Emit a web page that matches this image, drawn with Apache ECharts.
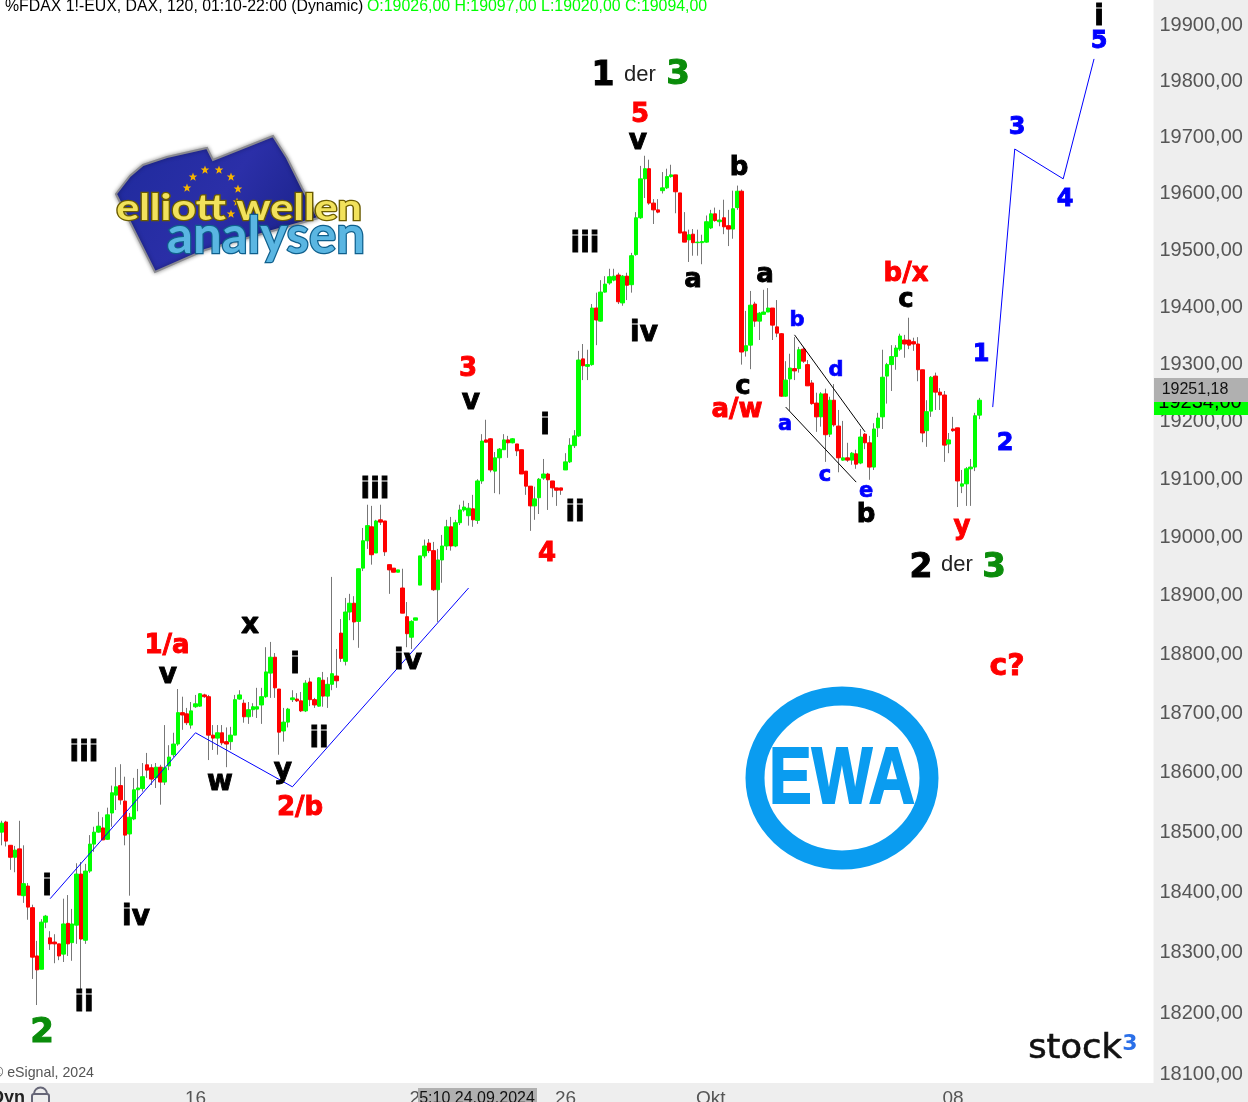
<!DOCTYPE html>
<html><head><meta charset="utf-8">
<style>html,body{margin:0;padding:0;background:#eee;overflow:hidden}#c{width:1248px;height:1102px}</style>
<script src="https://cdn.jsdelivr.net/npm/echarts@6/dist/echarts.min.js"></script>
</head><body><div id="c"></div>
<script>
const opens=[18497,18514,18475,18455,18469,18391,18407,18371,18291,18269,
18347,18321,18314,18311,18294,18345,18313,18342,18427,18317,
18432,18477,18497,18504,18485,18529,18559,18575,18549,18494,
18519,18568,18570,18610,18605,18588,18606,18581,18608,18627,
18645,18698,18696,18677,18708,18709,18728,18725,18660,18655,
18664,18649,18649,18660,18721,18714,18691,18703,18704,18711,
18725,18765,18792,18738,18667,18682,18720,18721,18718,18701,
18750,18720,18709,18753,18726,18746,18760,18833,18785,18869,
18884,18853,18944,18991,19015,18970,19027,19025,18950,18944,
18937,18910,18861,18826,18855,18915,18965,18987,18974,18907,
18958,18982,19015,18982,19022,19044,19034,19046,19026,19094,
19165,19167,19111,19134,19148,19165,19160,19158,19148,19111,
19085,19051,19065,19099,19106,19094,19082,19082,19113,19127,
19155,19172,19306,19293,19296,19395,19372,19423,19439,19444,
19453,19404,19451,19436,19489,19554,19623,19641,19580,19568,
19602,19607,19627,19630,19598,19529,19515,19525,19510,19510,
19511,19536,19561,19547,19554,19540,19534,19572,19601,19320,
19330,19402,19372,19384,19388,19395,19362,19350,19241,19271,
19289,19289,19323,19296,19264,19229,19205,19245,19175,19234,
19189,19130,19134,19130,19141,19125,19175,19160,19118,19186,
19205,19276,19296,19310,19323,19339,19339,19336,19332,19287,
19181,19215,19276,19248,19243,19158,19184,19186,19085,19089,
19115,19118,19208];
const closes=[18512,18482,18455,18467,18392,18411,18372,18289,18268,18347,
18357,18311,18311,18291,18344,18311,18344,18427,18319,18432,
18477,18497,18507,18484,18526,18563,18573,18551,18492,18522,
18568,18571,18590,18601,18586,18606,18581,18605,18623,18645,
18698,18694,18681,18701,18713,18730,18725,18660,18655,18664,
18647,18645,18660,18720,18728,18691,18703,18708,18708,18725,
18767,18792,18740,18665,18682,18704,18723,18718,18701,18748,
18720,18711,18757,18726,18746,18764,18752,18790,18869,18884,
18852,18943,18991,19017,18967,19025,19023,18972,18941,18937,
18941,18867,18832,18853,18859,18965,18982,18974,18907,18958,
18982,19015,18982,19022,19044,19049,19047,19027,19094,19163,
19161,19113,19134,19149,19165,19160,19167,19146,19106,19085,
19051,19063,19097,19106,19096,19082,19078,19078,19127,19156,
19172,19304,19294,19296,19395,19374,19423,19437,19450,19451,
19406,19451,19435,19487,19554,19623,19641,19580,19568,19564,
19607,19627,19630,19600,19527,19511,19524,19510,19511,19512,
19547,19561,19549,19550,19538,19534,19570,19601,19318,19329,
19400,19372,19386,19388,19395,19365,19351,19241,19269,19290,
19285,19322,19302,19259,19228,19205,19245,19174,19234,19191,
19134,19134,19130,19142,19123,19170,19160,19118,19184,19203,
19274,19296,19310,19325,19346,19332,19330,19332,19287,19177,
19214,19274,19248,19243,19156,19165,19181,19094,19089,19115,
19118,19207,19234];
const highs=[18516,18516,18475,18474,18516,18475,18412,18376,18316,18352,
18359,18332,18327,18311,18386,18392,18369,18445,18447,18444,
18492,18506,18531,18522,18538,18575,18606,18611,18590,18529,
18588,18603,18613,18630,18611,18613,18610,18677,18643,18664,
18738,18725,18706,18716,18728,18731,18730,18728,18677,18677,
18677,18673,18674,18728,18736,18720,18716,18714,18740,18740,
18809,18818,18799,18738,18706,18706,18736,18731,18733,18753,
18757,18723,18758,18767,18758,18929,18806,18857,18893,18900,
18896,18943,19013,19053,19051,19027,19053,19025,18950,18944,
18941,18943,18886,18855,18859,18965,18993,18994,18989,18977,
19001,19027,19032,19027,19053,19060,19056,19070,19097,19175,
19200,19168,19144,19151,19175,19172,19168,19158,19148,19111,
19085,19084,19099,19132,19108,19094,19082,19082,19142,19168,
19182,19320,19332,19322,19402,19422,19444,19451,19464,19464,
19457,19453,19457,19492,19564,19646,19664,19657,19587,19587,
19635,19641,19648,19630,19598,19564,19533,19534,19533,19524,
19558,19568,19572,19568,19586,19568,19602,19611,19604,19390,
19425,19406,19388,19427,19430,19395,19409,19351,19302,19315,
19344,19327,19327,19304,19269,19247,19248,19254,19240,19262,
19217,19198,19160,19144,19148,19184,19177,19172,19194,19212,
19322,19299,19330,19330,19350,19348,19378,19343,19344,19287,
19234,19276,19282,19255,19250,19177,19205,19186,19113,19118,
19132,19212,19238];
const lows=[18475,18473,18434,18430,18392,18379,18351,18253,18210,18269,
18337,18301,18279,18284,18281,18291,18283,18311,18230,18311,
18429,18464,18496,18484,18484,18506,18534,18543,18475,18391,
18517,18532,18565,18588,18576,18571,18543,18576,18601,18623,
18642,18669,18677,18671,18706,18708,18723,18618,18635,18627,
18643,18606,18635,18660,18720,18681,18679,18691,18689,18679,
18723,18723,18723,18627,18649,18673,18716,18716,18699,18699,
18709,18706,18708,18708,18706,18736,18740,18784,18778,18855,
18821,18808,18939,18977,18950,18970,19018,18965,18900,18937,
18937,18867,18809,18806,18855,18915,18961,18970,18905,18852,
18919,18975,18974,18980,19018,19041,19017,19015,19020,19089,
19161,19109,19073,19071,19148,19134,19159,19137,19106,19070,
19008,19027,19037,19096,19044,19066,19051,19070,19113,19125,
19151,19170,19269,19269,19294,19330,19371,19422,19436,19442,
19402,19399,19409,19422,19487,19552,19589,19577,19543,19562,
19597,19605,19625,19562,19527,19511,19476,19487,19487,19472,
19510,19534,19547,19539,19525,19504,19517,19568,19296,19310,
19288,19362,19339,19384,19388,19339,19344,19240,19240,19215,
19269,19282,19299,19259,19226,19179,19188,19127,19170,19188,
19109,19129,19127,19122,19115,19123,19149,19096,19113,19170,
19184,19228,19250,19287,19320,19308,19323,19320,19267,19161,
19153,19205,19217,19217,19127,19142,19179,19049,19073,19051,
19051,19111,19201];
const yTickValues=[18100,18200,18300,18400,18500,18600,18700,18800,18900,19000,19100,19200,19300,19400,19500,19600,19700,19800,19900];
const xTickIndex=[44,95,128,161,216];
const xTickText=['16','24','26','Okt','08'];
const channelTrend=[[11.2,18386],[44.2,18664],[66.2,18573],[106.2,18910]];
const projection=[[224.8,19222],[229.8,19676],[241,19623],[248,19837]];
const triangleUpper=[[180,19348],[195.8,19179]];
const triangleLower=[[177.8,19222],[193.9,19092]];

const slotCount=262;
const categories=Array.from({length:slotCount},()=>'');
xTickIndex.forEach((idx,k)=>{categories[idx]=xTickText[k];});

const wicks=opens.map((o,i)=>[o,closes[i],lows[i],highs[i]]);
const bodies=opens.map((o,i)=>[o,closes[i],Math.min(o,closes[i]),Math.max(o,closes[i])]);

const FONT='"DejaVu Sans"';
const S={
 k:{fill:'#000',stroke:'#000',lineWidth:0.9,font:'bold 28px '+FONT},
 ks:{fill:'#000',stroke:'#000',lineWidth:0.9,font:'bold 26px '+FONT},
 r:{fill:'#f00',stroke:'#f00',lineWidth:0.9,font:'bold 26px '+FONT},
 rl:{fill:'#f00',stroke:'#f00',lineWidth:0.9,font:'bold 30px '+FONT},
 b:{fill:'#00f',stroke:'#00f',lineWidth:0.9,font:'bold 24px '+FONT},
 bs:{fill:'#00f',stroke:'#00f',lineWidth:0.7,font:'bold 21px '+FONT},
 g:{fill:'#0a8c0a',stroke:'#0a8c0a',lineWidth:1,font:'bold 34px '+FONT},
 K:{fill:'#000',stroke:'#000',lineWidth:1,font:'bold 33px '+FONT},
 d:{fill:'#222',font:'22px "Liberation Sans"'}
};
const waveLabels=[
['2',42,1031,'g'],['ii',84,1001,'k'],['i',47,885,'k'],['iv',136,915,'k'],['iii',84,751,'k'],['v',168,673,'k'],
['1/a',167,644,'r'],['w',220,780,'k'],['x',250,623,'k'],['y',283,768,'k'],['2/b',300,806,'r'],['i',295,663,'k'],
['ii',319,737,'k'],['iv',408,659,'k'],['iii',375,488,'k'],['3',468,367,'r'],['v',471,399,'k'],['i',545,424,'k'],
['ii',575,511,'k'],['4',547,552,'r'],['iii',585,242,'k'],['iv',644,331,'k'],['v',638,139,'k'],['5',640,113,'r'],
['1',603,74,'K'],['der',640,72,'d'],['3',678,73,'g'],['a',693,278,'ks'],['b',739,166,'ks'],['a',765,273,'ks'],
['c',743,385,'ks'],['a/w',737,408,'r'],['b',797,318,'bs'],['d',836,368,'bs'],['a',785,422,'bs'],['c',825,473,'bs'],
['e',866,489,'bs'],['b',866,513,'ks'],['b/x',906,272,'r'],['c',906,298,'ks'],['1',981,352,'b'],['2',1005,441,'b'],
['y',962,525,'r'],['2',921,566,'K'],['der',957,562,'d'],['3',994,566,'g'],['c?',1007,665,'rl'],['3',1017,125,'b'],
['4',1065,197,'b'],['i',1099,15,'k'],['5',1099,39,'b']
];

const graphics=[];
function txt(text,x,y,style,extra){graphics.push(Object.assign({type:'text',x,y,z:50,silent:true,style:Object.assign({text,textAlign:'center',textVerticalAlign:'middle'},style)},extra||{}));}
waveLabels.forEach(l=>txt(l[0],l[1],l[2]+2.5,S[l[3]]));

// header
txt('%FDAX 1!-EUX, DAX, 120, 01:10-22:00 (Dynamic)',5,7,{fill:'#000',font:'15.85px "Liberation Sans"',textAlign:'left'});
txt('O:19026,00 H:19097,00 L:19020,00 C:19094,00',367,7,{fill:'#00ff00',font:'15.9px "Liberation Sans"',textAlign:'left'});
// footer
txt('© eSignal, 2024',94,1073,{fill:'#555',font:'14.2px "Liberation Sans"',textAlign:'right'});
txt('Dyn',25,1098,{fill:'#222',font:'bold 18px "Liberation Sans"',textAlign:'right'});
graphics.push({type:'rect',z:50,shape:{x:32,y:1094,width:17,height:12,r:2},style:{fill:'none',stroke:'#667',lineWidth:2}});
graphics.push({type:'arc',z:50,shape:{cx:40.5,cy:1094,r:6.5,startAngle:Math.PI,endAngle:0},style:{fill:'none',stroke:'#667',lineWidth:2}});
// last price & cursor tags
graphics.push({type:'rect',z:40,shape:{x:1154,y:388,width:94,height:27},style:{fill:'#00ff00'}});
txt('19234,00',1200,402,{fill:'#000',font:'20px "Liberation Sans"'},{z:41});
graphics.push({type:'rect',z:42,shape:{x:1154,y:378,width:94,height:24},style:{fill:'#b0b0b0'}});
txt('19251,18',1195,390,{fill:'#111',font:'16px "Liberation Sans"'},{z:43});
graphics.push({type:'rect',z:42,shape:{x:418,y:1088,width:119,height:14},style:{fill:'#b0b0b0'}});
txt('5:10 24.09.2024',477,1099,{fill:'#111',font:'16px "Liberation Sans"'},{z:43});
// stock3
txt('stock',1075,1049,{fill:'#111',font:'33px "DejaVu Sans"',stroke:'#111',lineWidth:0.6},{z:50,scaleX:1.07});
txt('3',1130,1044,{fill:'#2a6fe8',font:'bold 22px "DejaVu Sans"'},{z:50});
// EWA badge
graphics.push({type:'ellipse',z:20,shape:{cx:842,cy:778,rx:87,ry:82},style:{fill:'#fff',stroke:'#0a9cf0',lineWidth:19}});
txt('EWA',842,781,{fill:'#0a9cf0',font:'bold 80px "Liberation Sans"',stroke:'#0a9cf0',lineWidth:2},{z:21,scaleX:0.8});
// Elliott logo
function starPts(cx,cy,R){const p=[];for(let i=0;i<10;i++){const a=-Math.PI/2+i*Math.PI/5,r=i%2?R*0.42:R;p.push([cx+r*Math.cos(a),cy+r*Math.sin(a)]);}return p;}
graphics.push({type:'polygon',z:10,shape:{points:[[116,194],[130,176],[143,165],[167,157],[207,148],[213,160],[243,148],[273,136],[287,158],[302,188],[318,218],[240,240],[205,250],[155,272],[133,228]]},
 style:{fill:{type:'linear',x:0,y:0,x2:1,y2:1,colorStops:[{offset:0,color:'#1e2a9c'},{offset:0.5,color:'#2b2fa8'},{offset:1,color:'#161e80'}]},stroke:'#8a8a90',lineWidth:2,shadowBlur:4,shadowColor:'rgba(0,0,0,.4)'}});
[[193,177],[205,170],[219,170],[231,177],[238,189],[237,202],[231,214],[187,188]].forEach(s=>{
 graphics.push({type:'polygon',z:11,shape:{points:starPts(s[0],s[1],4.5)},style:{fill:'#f5b400'}});
});
txt('elliott wellen',239,208,{fill:'#f2e25c',font:'bold 37px "Lato"',stroke:'#6b5c00',lineWidth:2.5},{z:12,scaleX:1.16});
txt('analysen',266,236,{fill:'#5ab6e2',font:'bold 52px "Lato"',stroke:'#0f5f8c',lineWidth:2.5},{z:13,scaleX:0.98});

const chart=echarts.init(document.getElementById('c'),null,{renderer:'canvas',width:1248,height:1102});
const lineStyle=(color)=>({type:'line',showSymbol:false,symbol:'none',silent:true,animation:false,lineStyle:{color,width:1},z:6});
chart.setOption({
 animation:false,
 backgroundColor:'#eeeeee',
 grid:{show:true,left:-0.5,right:94.5,top:0,bottom:19,backgroundColor:'#ffffff',borderWidth:0,containLabel:false,outerBoundsMode:'none'},
 xAxis:{type:'category',data:categories,boundaryGap:true,
  axisLine:{show:false},axisTick:{show:false},splitLine:{show:false},
  axisLabel:{show:true,interval:0,color:'#555',fontSize:19,fontFamily:'Liberation Sans',margin:6,hideOverlap:false}},
 yAxis:{type:'log',logBase:10,min:18082,max:19943,position:'right',
  axisLine:{show:false},axisTick:{show:false},splitLine:{show:false},minorTick:{show:false},minorSplitLine:{show:false},
  axisLabel:{show:true,customValues:yTickValues,margin:6,
   rich:{t:{color:'#555',fontSize:20,fontFamily:'Liberation Sans',padding:[4,0,0,0]}},
   formatter:v=>'{t|'+Number(v).toFixed(2).replace('.',',')+'}'}},
 series:[
  {type:'candlestick',name:'wick',data:wicks,barWidth:1,silent:true,animation:false,clip:true,z:2,
   itemStyle:{color:'#777',color0:'#777',borderColor:'#777',borderColor0:'#777',borderColorDoji:'#777',borderWidth:1}},
  {type:'candlestick',name:'body',data:bodies,barWidth:4,silent:true,animation:false,clip:true,z:3,
   itemStyle:{color:'#00ff00',color0:'#ff0000',borderColor:'#00ff00',borderColor0:'#ff0000',borderColorDoji:'#00ff00',borderWidth:1}},
  Object.assign(lineStyle('#0000ff'),{data:channelTrend}),
  Object.assign(lineStyle('#0000ff'),{data:projection}),
  Object.assign(lineStyle('#000000'),{data:triangleUpper}),
  Object.assign(lineStyle('#000000'),{data:triangleLower})
 ],
 graphic:graphics
});
</script></body></html>
